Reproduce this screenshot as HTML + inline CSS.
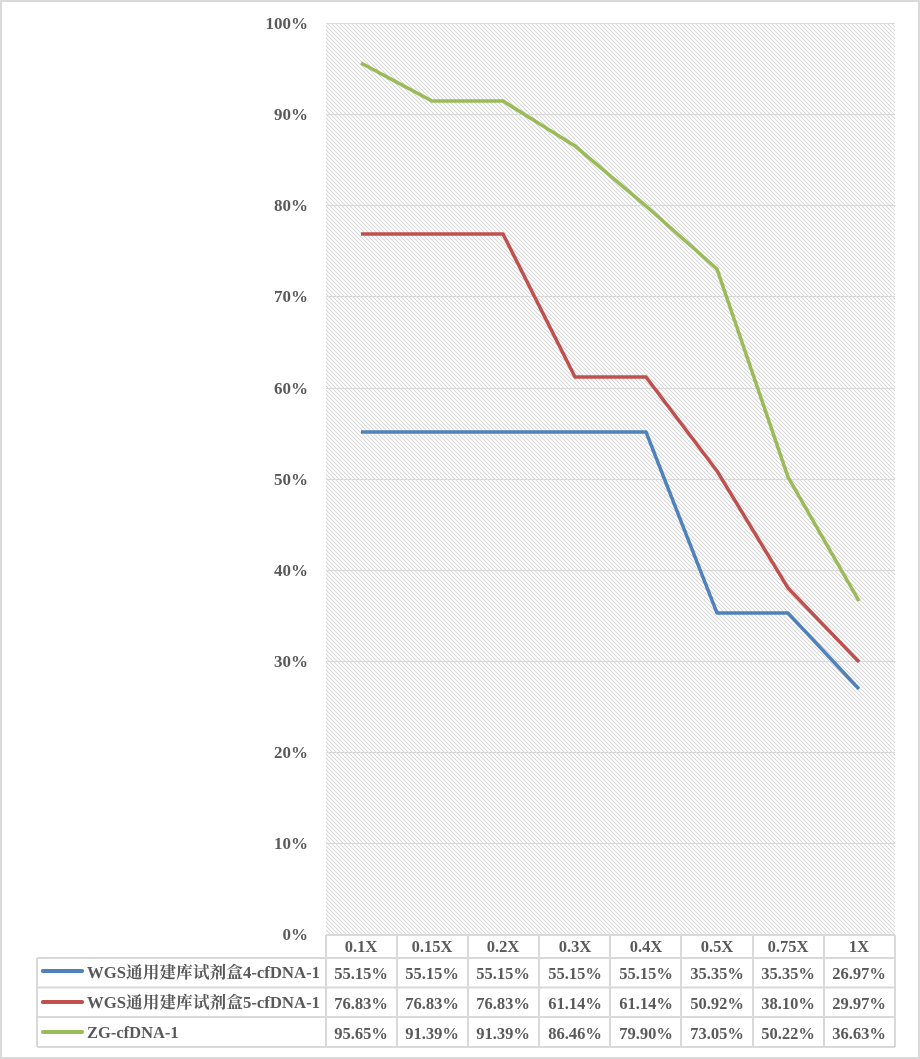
<!DOCTYPE html>
<html><head><meta charset="utf-8"><style>
html,body{margin:0;padding:0;background:#fff}
svg{display:block}
text{font-family:"Liberation Serif","Noto Serif CJK SC",serif;font-weight:bold;fill:#595959;font-size:16.5px}
.ax{font-size:17px}
</style></head><body>
<svg width="920" height="1059" viewBox="0 0 920 1059" xmlns="http://www.w3.org/2000/svg">
<defs>
<pattern id="h" width="4" height="4" patternUnits="userSpaceOnUse">
<path d="M-1,-1 L5,5 M-1,3 L1,5 M3,-1 L5,1" stroke="#cfcfcf" stroke-width="0.8"/>
</pattern>
</defs>
<rect x="1" y="1" width="918" height="1057" fill="#fff" stroke="#d9d9d9" stroke-width="2"/>
<rect x="326" y="23" width="569" height="912" fill="url(#h)"/>
<g stroke="#d9d9d9" stroke-width="1">
<line x1="326" x2="895" y1="23.5" y2="23.5"/>
<line x1="326" x2="895" y1="114.5" y2="114.5"/>
<line x1="326" x2="895" y1="205.5" y2="205.5"/>
<line x1="326" x2="895" y1="296.5" y2="296.5"/>
<line x1="326" x2="895" y1="388.5" y2="388.5"/>
<line x1="326" x2="895" y1="479.5" y2="479.5"/>
<line x1="326" x2="895" y1="570.5" y2="570.5"/>
<line x1="326" x2="895" y1="661.5" y2="661.5"/>
<line x1="326" x2="895" y1="752.5" y2="752.5"/>
<line x1="326" x2="895" y1="843.5" y2="843.5"/>
</g>
<g text-anchor="end" class="ax">
<text class="ax" x="308" y="29">100%</text><text class="ax" x="308" y="120">90%</text><text class="ax" x="308" y="211">80%</text>
<text class="ax" x="308" y="302">70%</text><text class="ax" x="308" y="394">60%</text><text class="ax" x="308" y="485">50%</text>
<text class="ax" x="308" y="576">40%</text><text class="ax" x="308" y="667">30%</text><text class="ax" x="308" y="758">20%</text>
<text class="ax" x="308" y="849">10%</text><text class="ax" x="308" y="940">0%</text>
</g>
<polyline fill="none" stroke="#4f81bd" stroke-width="3.5" stroke-linejoin="round" points="361,432 432,432 503,432 575,432 646,432 717,613 788,613 859,689"/>
<polyline fill="none" stroke="#c0504d" stroke-width="3.5" stroke-linejoin="round" points="361,234 432,234 503,234 575,377 646,377 717,471 788,588 859,662"/>
<polyline fill="none" stroke="#9bbb59" stroke-width="3.5" stroke-linejoin="round" points="361,63 432,101 503,101 575,146 646,206 717,269 788,477 859,601"/>
<g stroke="#d9d9d9" stroke-width="2" fill="none">
<line x1="326" x2="895" y1="935" y2="935"/>
<line x1="37" x2="895" y1="958" y2="958"/>
<line x1="37" x2="895" y1="987.5" y2="987.5"/>
<line x1="37" x2="895" y1="1017" y2="1017"/>
<line x1="37" x2="895" y1="1047" y2="1047"/>
<line x1="37" x2="37" y1="958" y2="1047"/>
<line x1="326" x2="326" y1="935" y2="1047"/>
<line x1="397" x2="397" y1="935" y2="1047"/>
<line x1="468" x2="468" y1="935" y2="1047"/>
<line x1="539" x2="539" y1="935" y2="1047"/>
<line x1="610" x2="610" y1="935" y2="1047"/>
<line x1="681" x2="681" y1="935" y2="1047"/>
<line x1="753" x2="753" y1="935" y2="1047"/>
<line x1="824" x2="824" y1="935" y2="1047"/>
<line x1="895" x2="895" y1="935" y2="1047"/>
</g>
<g stroke-width="4" stroke-linecap="round">
<line x1="43" x2="82" y1="971" y2="971" stroke="#4f81bd"/>
<line x1="43" x2="82" y1="1002" y2="1002" stroke="#c0504d"/>
<line x1="43" x2="82" y1="1032" y2="1032" stroke="#9bbb59"/>
</g>
<text x="87" y="978" textLength="233" lengthAdjust="spacingAndGlyphs">WGS通用建库试剂盒4-cfDNA-1</text>
<text x="87" y="1008" textLength="233" lengthAdjust="spacingAndGlyphs">WGS通用建库试剂盒5-cfDNA-1</text>
<text x="87" y="1038">ZG-cfDNA-1</text>
<g text-anchor="middle">
<text x="361" y="952">0.1X</text><text x="432" y="952">0.15X</text><text x="503" y="952">0.2X</text><text x="575" y="952">0.3X</text>
<text x="646" y="952">0.4X</text><text x="717" y="952">0.5X</text><text x="788" y="952">0.75X</text><text x="859" y="952">1X</text>
<text x="361" y="979">55.15%</text><text x="432" y="979">55.15%</text><text x="503" y="979">55.15%</text><text x="575" y="979">55.15%</text>
<text x="646" y="979">55.15%</text><text x="717" y="979">35.35%</text><text x="788" y="979">35.35%</text><text x="859" y="979">26.97%</text>
<text x="361" y="1009">76.83%</text><text x="432" y="1009">76.83%</text><text x="503" y="1009">76.83%</text><text x="575" y="1009">61.14%</text>
<text x="646" y="1009">61.14%</text><text x="717" y="1009">50.92%</text><text x="788" y="1009">38.10%</text><text x="859" y="1009">29.97%</text>
<text x="361" y="1039">95.65%</text><text x="432" y="1039">91.39%</text><text x="503" y="1039">91.39%</text><text x="575" y="1039">86.46%</text>
<text x="646" y="1039">79.90%</text><text x="717" y="1039">73.05%</text><text x="788" y="1039">50.22%</text><text x="859" y="1039">36.63%</text>
</g>
</svg>
</body></html>
